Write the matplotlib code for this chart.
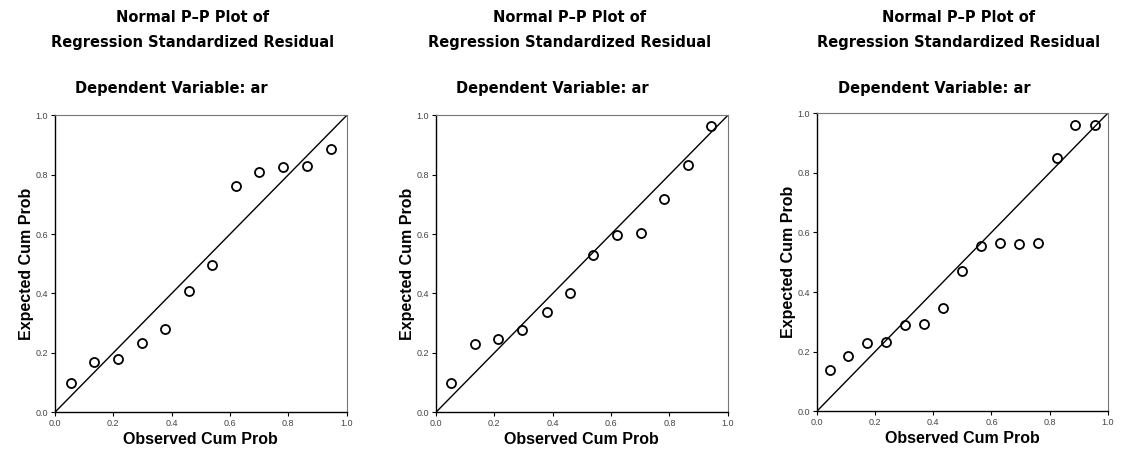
import matplotlib
matplotlib.use("Agg")
import matplotlib.pyplot as plt

# observed / expected cumulative probabilities
obs_1 = [0.054, 0.135, 0.215, 0.297, 0.378, 0.459, 0.538, 0.619, 0.699, 0.782, 0.863, 0.945]
exp_1 = [0.100, 0.168, 0.179, 0.233, 0.281, 0.407, 0.496, 0.763, 0.808, 0.825, 0.830, 0.887]

obs_2 = [0.051, 0.132, 0.214, 0.296, 0.379, 0.458, 0.539, 0.619, 0.701, 0.780, 0.863, 0.942]
exp_2 = [0.098, 0.230, 0.245, 0.278, 0.338, 0.402, 0.528, 0.598, 0.604, 0.720, 0.833, 0.965]

obs_3 = [0.044, 0.108, 0.172, 0.237, 0.302, 0.369, 0.435, 0.498, 0.564, 0.629, 0.693,
         0.760, 0.824, 0.888, 0.955]
exp_3 = [0.137, 0.187, 0.229, 0.234, 0.288, 0.294, 0.348, 0.471, 0.555, 0.563, 0.562,
         0.563, 0.848, 0.959, 0.959]

ticks = [0.0, 0.2, 0.4, 0.6, 0.8, 1.0]
tick_labels = ["0.0", "0.2", "0.4", "0.6", "0.8", "1.0"]

title_1 = "Normal P\u2013P Plot of"
title_2 = "Regression Standardized Residual"
subtitle = "Dependent Variable: ar"
xlab = "Observed Cum Prob"
ylab = "Expected Cum Prob"

plt.rcParams["font.family"] = ["Liberation Sans", "DejaVu Sans"]

fig = plt.figure(figsize=(11.22, 4.58), dpi=100)

# axes boxes in figure fractions
boxes = [
    [0.049, 0.100, 0.260, 0.648],
    [0.3886, 0.100, 0.260, 0.648],
    [0.728, 0.102, 0.2594, 0.651],
]
# title centres (x in figure fraction)
title_x = [0.172, 0.508, 0.854]
sub_x = [0.153, 0.492, 0.833]

data = [(obs_1, exp_1), (obs_2, exp_2), (obs_3, exp_3)]

for box, (ox_, ey), tx, sx in zip(boxes, data, title_x, sub_x):
    ax = fig.add_axes(box)
    ax.plot([0, 1], [0, 1], color="black", lw=1.0, zorder=2)
    ax.plot(ox_, ey, "o", mfc="none", mec="black", ms=6.5, mew=1.3, zorder=3)
    ax.set_xlim(0, 1)
    ax.set_ylim(0, 1)
    ax.set_xticks(ticks)
    ax.set_yticks(ticks)
    ax.set_xticklabels(tick_labels, fontsize=6.5, color="#444444")
    ax.set_yticklabels(tick_labels, fontsize=6.5, color="#444444")
    ax.tick_params(direction="out", length=3, width=0.8, pad=2)
    ax.spines["left"].set_linewidth(1.0)
    ax.spines["bottom"].set_linewidth(1.0)
    for s in ["top", "right"]:
        ax.spines[s].set_color("#777777")
        ax.spines[s].set_linewidth(0.8)
    ax.set_xlabel(xlab, fontsize=11.5, fontweight="bold", labelpad=3)
    ax.set_ylabel(ylab, fontsize=11.5, fontweight="bold", labelpad=1)

    fig.text(tx, 1 - 17 / 458, title_1, ha="center", va="center",
             fontsize=10.5, fontweight="bold", family="DejaVu Sans")
    fig.text(tx, 1 - 43 / 458, title_2, ha="center", va="center",
             fontsize=10.5, fontweight="bold", family="DejaVu Sans")
    fig.text(sx, 1 - 88 / 458, subtitle, ha="center", va="center",
             fontsize=10.5, fontweight="bold", family="DejaVu Sans")

fig.savefig("out.png", dpi=100)
